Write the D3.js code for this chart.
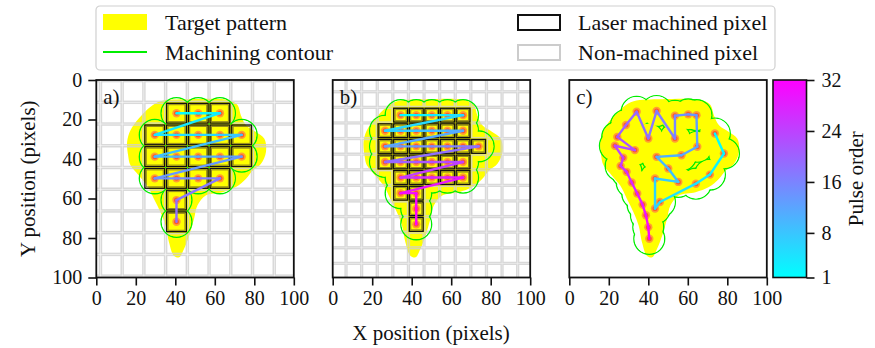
<!DOCTYPE html>
<html>
<head>
<meta charset="utf-8">
<script src="https://cdn.jsdelivr.net/npm/d3@7"></script>
<style>
html, body { margin: 0; padding: 0; background: #fff; }
text { font-family: "Liberation Serif", "Times New Roman", serif; fill: #111; }
</style>
</head>
<body>
<svg id="chart" width="875" height="348"></svg>
<script>
// tick labels
var axisTicks = [0, 20, 40, 60, 80, 100];
var pulseTicks = [1, 8, 16, 24, 32];

// outline of the target pattern, in pixels
var targetX = [32.6, 47, 67.3, 71.5, 73.2, 75.8, 80.8, 85.1, 85.9, 83.4, 79.2, 75.8, 70.7, 63.9, 55.4, 51.2, 49.5, 47, 44.4, 41.9, 39.3, 36.8, 35.1, 32.5, 29.2, 25.8, 21.5, 17.3, 16.1, 15.6, 17.3, 21.5, 27.5];
var targetY = [10.7, 9.7, 10.2, 12.7, 17.8, 22.9, 26.3, 29.7, 36.4, 42.4, 45.8, 50, 54.2, 56.8, 58.5, 63.6, 70.3, 78.8, 85.6, 89.8, 89, 82.2, 73.7, 66.9, 60.2, 53.4, 48.3, 43.2, 38.1, 31.3, 25.4, 19.5, 13.5];

// a) coarse pixels, listed in pulse order
var aPulseX = [40.6, 51.6, 62.6, 29.6, 40.6, 51.6, 62.6, 73.6, 29.6, 40.6, 51.6, 62.6, 73.6, 29.6, 40.6, 51.6, 62.6, 40.6, 40.6];
var aPulseY = [16.8, 16.8, 16.8, 27.8, 27.8, 27.8, 27.8, 27.8, 38.8, 38.8, 38.8, 38.8, 38.8, 49.8, 49.8, 49.8, 49.8, 60.8, 71.8];

// b) fine pixels, listed in pulse order
var bPulseX = [34.4, 42.3, 50.2, 58.1, 66.0,
               26.5, 34.4, 42.3, 50.2, 58.1, 66.0,
               26.5, 34.4, 42.3, 50.2, 58.1, 66.0, 73.9,
               26.5, 34.4, 42.3, 50.2, 58.1, 66.0,
               34.4, 42.3, 50.2, 58.1, 66.0,
               34.4, 42.3, 42.3, 42.3];
var bPulseY = [17.8, 17.8, 17.8, 17.8, 17.8,
               25.7, 25.7, 25.7, 25.7, 25.7, 25.7,
               33.6, 33.6, 33.6, 33.6, 33.6, 33.6, 33.6,
               41.5, 41.5, 41.5, 41.5, 41.5, 41.5,
               49.4, 49.4, 49.4, 49.4, 49.4,
               57.3, 57.3, 65.2, 73.1];

// c) free pulses along the contour
var cPulseX = [73.7, 78.3, 71.2, 64.1, 45.9, 43.4, 43.4, 55.2, 50.1, 44.2, 56.8, 64.8, 64.4, 60.2, 53.5, 53.5,
               44.2, 40.0, 34.1, 28.7, 24.3, 33.2, 23.1, 27.3, 26.0, 29.0, 31.6, 34.4, 37.1, 38.8, 40.0, 40.5];
var cPulseY = [27.1, 37.2, 47.9, 52.5, 61.8, 65.1, 49.9, 51.6, 44.8, 38.9, 38.1, 33.8, 17.8, 17.4, 18.1, 29.6,
               15.7, 29.6, 16.1, 22.8, 28.8, 35.5, 33.3, 39.4, 43.5, 46.5, 51.9, 57.5, 63.1, 68.5, 74.5, 80.4];

var serif = '"Liberation Serif", "Times New Roman", serif';
var svg = d3.select("#chart");
var defs = svg.append("defs");

var top_ = 80, side = 197.5;
var contourRadius = 7.8;     // pixels
var pulseColour = d3.scaleLinear().domain([1, 32]).range(["#00ffff", "#ff00ff"]).clamp(true);
var yScale = d3.scaleLinear().domain([0, 100]).range([top_, top_ + side]);

var panels = [
    {name: "a", left: 96.3, xs: aPulseX, ys: aPulseY, grid: {pitch: 11, x0: 7.6, y0: 16.8, size: 10}},
    {name: "b", left: 332.7, xs: bPulseX, ys: bPulseY, grid: {pitch: 7.9, x0: 26.5, y0: 17.8, size: 7}},
    {name: "c", left: 569.3, xs: cPulseX, ys: cPulseY, grid: null}
];

function styleAxis(ax) {
    ax.select(".domain").remove();
    ax.selectAll("line").attr("stroke", "#111").attr("stroke-width", 1.6);
    ax.selectAll("text").style("font-size", "20px").style("font-family", serif).attr("fill", "#111");
}

panels.forEach(function(p, pi) {
    var x = d3.scaleLinear().domain([0, 100]).range([p.left, p.left + side]);
    var k = side / 100;

    defs.append("clipPath").attr("id", "clip" + p.name)
        .append("rect").attr("x", p.left).attr("y", top_).attr("width", side).attr("height", side);

    var g = svg.append("g").attr("clip-path", "url(#clip" + p.name + ")");
    g.append("rect").attr("x", p.left).attr("y", top_).attr("width", side).attr("height", side).attr("fill", "#fff");

    // target pattern
    var outline = d3.range(targetX.length).map(function(i) { return [x(targetX[i]), yScale(targetY[i])]; });
    g.append("path")
        .attr("d", d3.line().curve(d3.curveCatmullRomClosed.alpha(0.5))(outline))
        .attr("fill", "#ffff00");

    // pixel grid
    if (p.grid) {
        var gr = p.grid;
        var machined = {};
        p.xs.forEach(function(v, i) { machined[v.toFixed(1) + "_" + p.ys[i].toFixed(1)] = true; });
        var cols = d3.range(Math.floor(-gr.x0 / gr.pitch), Math.ceil((100 - gr.x0) / gr.pitch) + 1).map(function(c) { return gr.x0 + c * gr.pitch; });
        var rows = d3.range(Math.floor(-gr.y0 / gr.pitch), Math.ceil((100 - gr.y0) / gr.pitch) + 1).map(function(r) { return gr.y0 + r * gr.pitch; });
        var cells = [];
        cols.forEach(function(cx) { rows.forEach(function(cy) {
            if (!machined[cx.toFixed(1) + "_" + cy.toFixed(1)]) cells.push([cx, cy]);
        }); });
        g.append("g").selectAll("rect").data(cells).enter().append("rect")
            .attr("x", function(d) { return x(d[0] - gr.size / 2); })
            .attr("y", function(d) { return yScale(d[1] - gr.size / 2); })
            .attr("width", gr.size * k).attr("height", gr.size * k)
            .attr("fill", "none").attr("stroke", "#cfcfcf").attr("stroke-opacity", 0.8).attr("stroke-width", 1.5);

        var sq = g.append("g").selectAll("g").data(p.xs).enter().append("g");
        sq.append("rect")
            .attr("x", function(d) { return x(d - gr.size / 2); })
            .attr("y", function(d, i) { return yScale(p.ys[i] - gr.size / 2); })
            .attr("width", gr.size * k).attr("height", gr.size * k)
            .attr("fill", "none").attr("stroke", "#111").attr("stroke-width", 1.4);
        sq.append("rect")
            .attr("x", function(d) { return x(d - gr.size / 2) + 1.4; })
            .attr("y", function(d, i) { return yScale(p.ys[i] - gr.size / 2) + 1.4; })
            .attr("width", gr.size * k - 2.8).attr("height", gr.size * k - 2.8)
            .attr("fill", "none").attr("stroke", "#8f8420").attr("stroke-width", 1);
    }

    // machining contour: outer edge of the union of pulse circles
    var rpx = contourRadius * k, sw = 1.4;
    var mask = defs.append("mask").attr("id", "mask" + p.name).attr("maskUnits", "userSpaceOnUse")
        .attr("x", 0).attr("y", 0).attr("width", 875).attr("height", 348);
    mask.append("rect").attr("width", 875).attr("height", 348).attr("fill", "#fff");
    mask.selectAll("circle").data(p.xs).enter().append("circle")
        .attr("cx", function(d) { return x(d); })
        .attr("cy", function(d, i) { return yScale(p.ys[i]); })
        .attr("r", rpx - sw / 2).attr("fill", "#000");
    g.append("g").attr("mask", "url(#mask" + p.name + ")")
        .selectAll("circle").data(p.xs).enter().append("circle")
        .attr("cx", function(d) { return x(d); })
        .attr("cy", function(d, i) { return yScale(p.ys[i]); })
        .attr("r", rpx).attr("fill", "none").attr("stroke", "#00ee00").attr("stroke-width", sw);

    // pulse spots
    var dots = g.append("g").selectAll("g").data(p.xs).enter().append("g");
    dots.append("circle")
        .attr("cx", function(d) { return x(d); })
        .attr("cy", function(d, i) { return yScale(p.ys[i]); })
        .attr("r", 4.2).attr("fill", "#ffa030");
    dots.append("circle")
        .attr("cx", function(d) { return x(d); })
        .attr("cy", function(d, i) { return yScale(p.ys[i]); })
        .attr("r", 2.5).attr("fill", "#ff5a28");

    // pulse path, coloured by order
    var segs = d3.range(p.xs.length - 1);
    g.append("g").selectAll("line").data(segs).enter().append("line")
        .attr("x1", function(i) { return x(p.xs[i]); })
        .attr("y1", function(i) { return yScale(p.ys[i]); })
        .attr("x2", function(i) { return x(p.xs[i + 1]); })
        .attr("y2", function(i) { return yScale(p.ys[i + 1]); })
        .attr("stroke", function(i) { return pulseColour(i + 1.5); })
        .attr("stroke-width", 2.4).attr("stroke-linecap", "round");

    // frame and axes
    svg.append("rect").attr("x", p.left).attr("y", top_).attr("width", side).attr("height", side)
        .attr("fill", "none").attr("stroke", "#111").attr("stroke-width", 1.8);

    var xAxis = svg.append("g").attr("transform", "translate(0," + (top_ + side) + ")")
        .call(d3.axisBottom(x).tickValues(axisTicks).tickSize(8).tickPadding(5).tickFormat(d3.format("d")));
    styleAxis(xAxis);

    if (pi === 0) {
        var yAxis = svg.append("g").attr("transform", "translate(" + p.left + ",0)")
            .call(d3.axisLeft(yScale).tickValues(axisTicks).tickSize(8).tickPadding(6).tickFormat(d3.format("d")));
        styleAxis(yAxis);
    }

    svg.append("text").attr("x", p.left + 7).attr("y", top_ + 24)
        .style("font-size", "21px").text(p.name + ")");
});

// colour bar
var cbLeft = 773, cbWidth = 33.5;
var cbScale = d3.scaleLinear().domain([1, 32]).range([top_ + side, top_]);
var grad = defs.append("linearGradient").attr("id", "cbgrad").attr("x1", 0).attr("y1", 1).attr("x2", 0).attr("y2", 0);
grad.append("stop").attr("offset", "0%").attr("stop-color", pulseColour(1));
grad.append("stop").attr("offset", "100%").attr("stop-color", pulseColour(32));
svg.append("rect").attr("x", cbLeft).attr("y", top_).attr("width", cbWidth).attr("height", side)
    .attr("fill", "url(#cbgrad)").attr("stroke", "#111").attr("stroke-width", 1.6);
var cbAxis = svg.append("g").attr("transform", "translate(" + (cbLeft + cbWidth) + ",0)")
    .call(d3.axisRight(cbScale).tickValues(pulseTicks).tickSize(8).tickPadding(7).tickFormat(d3.format("d")));
styleAxis(cbAxis);

// axis titles
svg.append("text").attr("transform", "translate(28," + (top_ + side / 2) + ") rotate(-90)")
    .attr("text-anchor", "middle").attr("dy", "0.35em").style("font-size", "21px").text("Y position (pixels)");
svg.append("text").attr("x", 431).attr("y", 340)
    .attr("text-anchor", "middle").style("font-size", "21px").text("X position (pixels)");
svg.append("text").attr("transform", "translate(856," + (top_ + side / 2) + ") rotate(-90)")
    .attr("text-anchor", "middle").attr("dy", "0.35em").style("font-size", "21px").text("Pulse order");

// legend
var leg = svg.append("g");
leg.append("rect").attr("x", 96).attr("y", 6).attr("width", 679).attr("height", 64).attr("rx", 4)
    .attr("fill", "#fff").attr("stroke", "#d0d0d0").attr("stroke-width", 1.2);
leg.append("rect").attr("x", 103).attr("y", 14).attr("width", 44).attr("height", 16).attr("fill", "#ffff00");
leg.append("line").attr("x1", 103).attr("x2", 147).attr("y1", 52).attr("y2", 52)
    .attr("stroke", "#00ee00").attr("stroke-width", 2);
leg.append("rect").attr("x", 518).attr("y", 15).attr("width", 42).attr("height", 15)
    .attr("fill", "none").attr("stroke", "#111").attr("stroke-width", 2);
leg.append("rect").attr("x", 518).attr("y", 45).attr("width", 42).attr("height", 15)
    .attr("fill", "none").attr("stroke", "#cccccc").attr("stroke-width", 2);
var legText = [["Target pattern", 165, 22], ["Machining contour", 165, 52], ["Laser machined pixel", 578, 22], ["Non-machined pixel", 578, 52]];
leg.selectAll("text.lt").data(legText).enter().append("text").attr("class", "lt")
    .attr("x", function(d) { return d[1]; }).attr("y", function(d) { return d[2]; })
    .attr("dy", "0.35em").style("font-size", "22px").text(function(d) { return d[0]; });
</script>
</body>
</html>
